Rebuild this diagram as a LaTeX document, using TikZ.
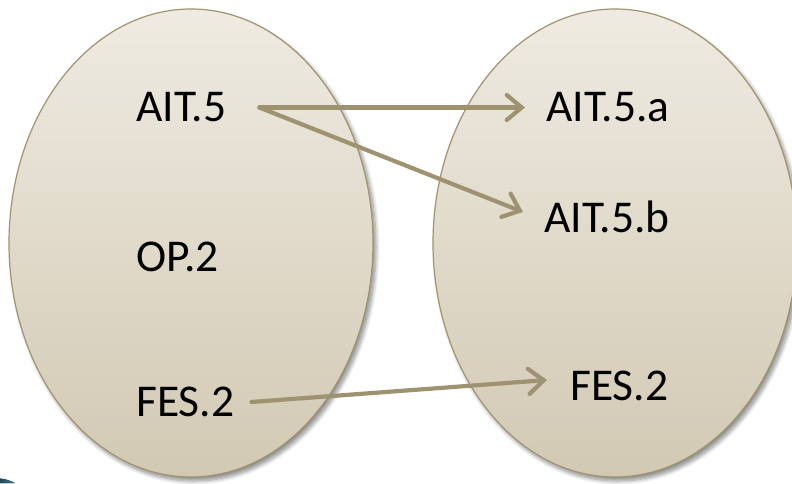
\documentclass[tikz,border=0pt]{standalone}
\usepackage{fontspec}
\setmainfont{Carlito}
\usetikzlibrary{shapes.geometric,arrows.meta,shadows.blur}
\definecolor{setfilltop}{HTML}{EFEBE2}
\definecolor{setfillbot}{HTML}{D2C9B3}
\definecolor{setline}{HTML}{A09370}
\definecolor{arrowc}{HTML}{9E9271}
\definecolor{tealdark}{HTML}{1E4B57}
\definecolor{teallight}{HTML}{3F7F8C}
\begin{document}
\begin{tikzpicture}[x=1pt,y=-1pt,
  setshape/.style={ellipse, draw=setline, line width=1.2pt,
    top color=setfilltop, bottom color=setfillbot,
    minimum width=364pt, minimum height=468pt, inner sep=0pt,
    blur shadow={shadow xshift=3pt, shadow yshift=-4pt,
      shadow blur radius=4pt, shadow blur steps=8, shadow opacity=45}},
  elem/.style={anchor=west, inner sep=0pt,
    font=\fontsize{45.5}{54}\selectfont, text=black},
  conn/.style={draw=arrowc, line width=4.2pt, line cap=round,
    -{Straight Barb[length=15pt,width=25pt,line cap=round]}}]
\useasboundingbox (0,0) rectangle (792,483);
\clip (0,0) rectangle (792,483);

% corner ornament
\fill[left color=tealdark, right color=teallight]
  (0,478.5) .. controls (6,479) and (11,481) .. (15,483) -- (0,483) -- cycle;

% the two sets
\node[setshape] (left) at (191,243) {};
\node[setshape] (right) at (615,243) {};

% elements
\node[elem] (ait5)  at (136,107.5) {AIT.5};
\node[elem] (op2)   at (136,257)   {OP.2};
\node[elem] (fes2l) at (136,402)   {FES.2};
\node[elem] (ait5a) at (546,107.5) {AIT.5.a};
\node[elem] (ait5b) at (544,217)   {AIT.5.b};
\node[elem] (fes2r) at (570,386)   {FES.2};

% mappings
\draw[conn] ([xshift=33pt]ait5.east) -- ([xshift=-21pt]ait5a.west);
\draw[conn] ([xshift=33pt]ait5.east) -- ([shift={(-21pt,5pt)}]ait5b.west);
\draw[conn] ([xshift=17pt]fes2l.east) -- ([shift={(-23pt,6pt)}]fes2r.west);
\end{tikzpicture}
\end{document}
